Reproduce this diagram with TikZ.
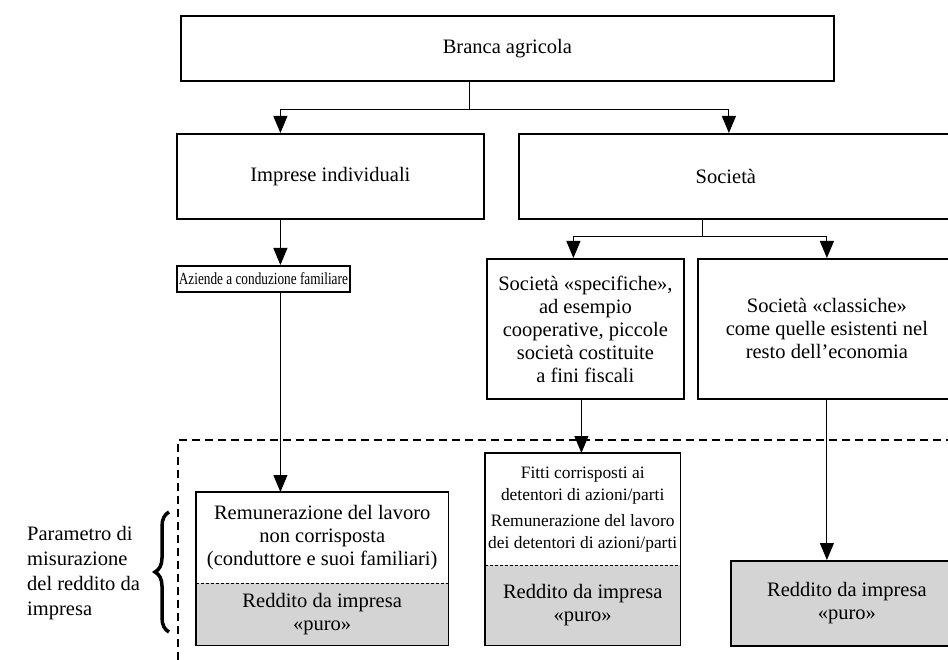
\documentclass[tikz,border=0pt]{standalone}
\usepackage{fontspec}
\setmainfont{Liberation Serif}
\usetikzlibrary{positioning,arrows.meta,decorations.pathreplacing}
\newcommand{\puro}{Reddito da impresa\\«puro»}
\tikzset{
	box/.style={draw, line width=1.8pt, anchor=north west, align=center, inner sep=0pt, font=\fontsize{20.5}{23}\selectfont},
	part/.style={anchor=north west, align=center, inner sep=0pt, font=\fontsize{20.5}{23}\selectfont},
	grey/.style={fill=black!17},
	outline/.style={line width=1.8pt},
	link/.style={line width=1pt},
	arrow/.style={link, -{Triangle[width=14pt,length=17pt]}},
	divide/.style={line width=0.9pt, dash pattern=on 3pt off 2pt},
	frame/.style={line width=2pt, dash pattern=on 8pt off 5pt},
	bracket/.style={line width=3.5pt, decorate, decoration={brace, amplitude=14pt}}
}

\begin{document}
\begin{tikzpicture}[x=1pt, y=-1pt]
	\useasboundingbox (0,0) rectangle (948,660);

	\node[box, minimum width=653pt, minimum height=65pt] (branca) at (180,15) {Branca agricola};
	\node[box, minimum width=307pt, minimum height=85pt] (imprese) at (176,133) {Imprese individuali};
	\node[box, minimum width=440pt, minimum height=85pt] (societa) at (518,133) {\hspace*{-26pt}Società};

	\node[box, minimum width=173pt, minimum height=26pt, font=\fontsize{17}{19}\selectfont] (aziende) at (176,265) {\scalebox{0.78}[1]{Aziende a conduzione familiare}};
	\node[box, minimum width=197pt, minimum height=140pt] (specifiche) at (486,258) {Società «specifiche»,\\ad esempio\\cooperative, piccole\\società costituite\\a fini fiscali};
	\node[box, minimum width=258pt, minimum height=140pt] (classiche) at (697,258) {Società «classiche»\\come quelle esistenti nel\\resto dell’economia};

	\node[part, minimum width=252pt, minimum height=91pt] (lavoro) at (196,492) {Remunerazione del lavoro\\non corrisposta\\(conduttore e suoi familiari)};
	\node[part, grey, minimum width=252pt, minimum height=62pt] (puro1) at (196,583) {\puro};
	\draw[outline] (lavoro.north west) rectangle (puro1.south east);
	\draw[divide] (puro1.north west) -- (puro1.north east);

	\node[part, minimum width=195pt, minimum height=112pt, font=\fontsize{17.4}{22}\selectfont] (fitti) at (485,453) {Fitti corrisposti ai\\detentori di azioni/parti\\[4pt]Remunerazione del lavoro\\dei detentori di azioni/parti};
	\node[part, grey, minimum width=195pt, minimum height=80pt] (puro2) at (485,565) {\puro};
	\draw[outline] (fitti.north west) rectangle (puro2.south east);
	\draw[divide] (puro2.north west) -- (puro2.north east);

	\node[box, grey, minimum width=232pt, minimum height=85pt] (puro3) at (730,560) {\puro};

	\draw[frame] (178,660) -- (178,440) -- (960,440);

	\coordinate (forkA) at (469,110);
	\draw[link] (branca.south -| forkA) -- (forkA);
	\draw[arrow] (forkA) -| ([xshift=-50pt]imprese.north);
	\draw[arrow] (forkA) -| ([xshift=-10pt]societa.north);

	\draw[arrow] ([xshift=-50pt]imprese.south) -- ([xshift=-50pt]imprese.south |- aziende.north);

	\coordinate (forkB) at (702,237);
	\draw[link] (societa.south -| forkB) -- (forkB);
	\draw[arrow] (forkB) -| ([xshift=-12pt]specifiche.north);
	\draw[arrow] (forkB) -| (classiche.north);

	\draw[arrow] ([xshift=-50pt]imprese.south |- aziende.south) -- ([xshift=-50pt]imprese.south |- lavoro.north);
	\draw[arrow] ([xshift=-4pt]specifiche.south) -- ([xshift=-4pt]specifiche.south |- fitti.north);
	\draw[arrow] (classiche.south) -- (classiche.south |- puro3.north);

	\coordinate (braceA) at (169,632);
	\coordinate (braceB) at (169,512);
	\draw[bracket] (braceA) -- (braceB);
	\node[anchor=west, align=left, inner sep=0pt, font=\fontsize{20.5}{25}\selectfont] (param) at (27,573) {Parametro di\\misurazione\\del reddito da\\impresa};
\end{tikzpicture}
\end{document}
